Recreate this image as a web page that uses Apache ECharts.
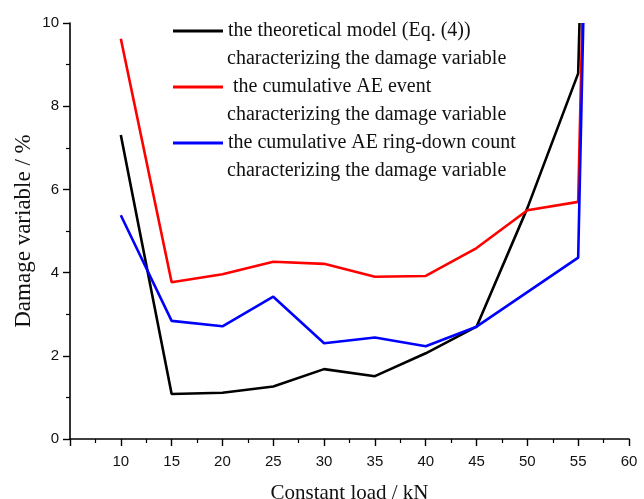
<!DOCTYPE html>
<html>
<head>
<meta charset="utf-8">
<script src="https://cdn.jsdelivr.net/npm/echarts@6/dist/echarts.min.js"></script>
<style>
  html, body { margin: 0; padding: 0; background: #fff; }
  #chart { width: 644px; height: 499px; }
</style>
</head>
<body>
<div id="chart"></div>
<script>
// Constant load (kN) for each test, with the final steep rise of each curve
const theoryLoads = [10, 15, 20, 25, 30, 35, 40, 45, 50, 55, 55.13];
const eventLoads  = [10, 15, 20, 25, 30, 35, 40, 45, 50, 55, 55.4];
const ringLoads   = [10, 15, 20, 25, 30, 35, 40, 45, 50, 55, 55.5];

// Damage variable (%)
const theoryDamage = [7.31, 1.08, 1.11, 1.26, 1.68, 1.51, 2.06, 2.70, 5.55, 8.79, 10];
const eventDamage  = [9.62, 3.77, 3.96, 4.26, 4.21, 3.90, 3.92, 4.59, 5.50, 5.70, 10];
const ringDamage   = [5.38, 2.84, 2.71, 3.42, 2.30, 2.44, 2.23, 2.70, 3.53, 4.36, 10];

const seriesNames = [
  'the theoretical model (Eq. (4))',
  ' the cumulative AE event',
  'the cumulative AE ring-down count'
];
const secondLine = 'characterizing the damage variable';
const xTicks = [10, 15, 20, 25, 30, 35, 40, 45, 50, 55, 60];

const colors = ['#000000', '#ff0000', '#0000ff'];
const serif = '"Liberation Serif", "Times New Roman", serif';
const sans = '"Liberation Sans", Arial, sans-serif';

function pairs(xs, ys) { return xs.map((x, i) => [x, ys[i]]); }

const chart = echarts.init(document.getElementById('chart'), null, { renderer: 'canvas' });

const axisCommon = {
  axisLine: { show: true, lineStyle: { color: '#000', width: 1.6 } },
  axisTick: { show: true, inside: false, length: 7, lineStyle: { color: '#000', width: 1.4 } },
  minorTick: { show: true, splitNumber: 2, length: 4, lineStyle: { color: '#000', width: 1.2 } },
  splitLine: { show: false },
  axisLabel: { color: '#111', fontFamily: sans, fontSize: 15 }
};

chart.setOption({
  animation: false,
  backgroundColor: '#fff',
  grid: { left: 70, right: 15, top: 23, bottom: 60, containLabel: false, outerBoundsMode: 'none' },
  xAxis: Object.assign({}, axisCommon, {
    type: 'value', min: 5, max: 60, interval: 5,
    name: 'Constant load / kN', nameLocation: 'middle', nameGap: 44,
    nameTextStyle: { fontFamily: serif, fontSize: 21, color: '#111' },
    axisLabel: Object.assign({}, axisCommon.axisLabel, {
      margin: 15,
      formatter: v => (xTicks.indexOf(v) >= 0 ? String(v) : '')
    })
  }),
  yAxis: Object.assign({}, axisCommon, {
    type: 'value', min: 0, max: 10, interval: 2,
    name: 'Damage variable / %', nameLocation: 'middle', nameGap: 35,
    nameMoveOverlap: false,
    nameTextStyle: { fontFamily: serif, fontSize: 23, color: '#111' },
    axisLabel: Object.assign({}, axisCommon.axisLabel, { margin: 11 })
  }),
  legend: {
    orient: 'vertical', left: 168, top: 16,
    itemWidth: 50, itemHeight: 20, itemGap: 36,
    icon: 'path://M0,0 L50,0 L50,3 L0,3 Z',
    textStyle: { fontFamily: serif, fontSize: 20, color: '#111', lineHeight: 20 },
    data: seriesNames
  },
  graphic: [0, 1, 2].map(i => ({
    type: 'text', left: 227, top: 49 + i * 56, silent: true,
    style: { text: secondLine, font: '20px ' + serif, fill: '#111' }
  })),
  series: [
    { name: seriesNames[0], data: pairs(theoryLoads, theoryDamage) },
    { name: seriesNames[1], data: pairs(eventLoads, eventDamage) },
    { name: seriesNames[2], data: pairs(ringLoads, ringDamage) }
  ].map((s, i) => Object.assign(s, {
    type: 'line', symbol: 'none', color: colors[i],
    lineStyle: { color: colors[i], width: 2.6 }, clip: true
  }))
});
</script>
</body>
</html>
